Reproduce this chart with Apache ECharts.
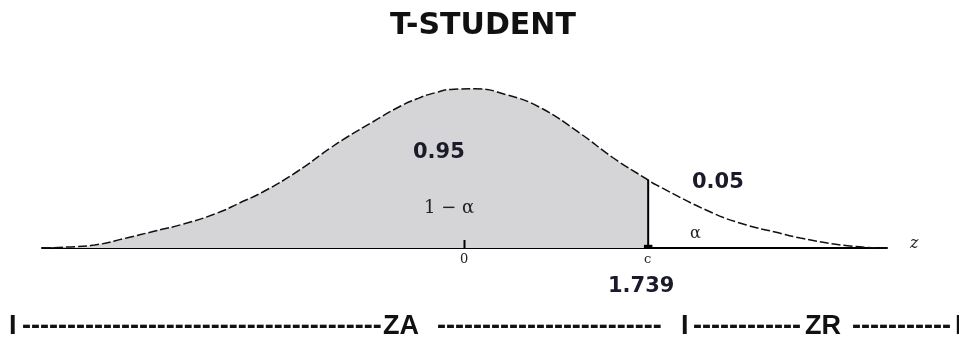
<!DOCTYPE html>
<html>
<head>
<meta charset="utf-8">
<script src="https://cdn.jsdelivr.net/npm/echarts@6/dist/echarts.min.js"></script>
<style>
html, body { margin: 0; padding: 0; background: #fff; }
#chart { width: 959px; height: 343px; }
</style>
</head>
<body>
<div id="chart"></div>
<script>
// curva dibujada
var curveX = [-4.0, -3.76, -3.5, -3.2, -2.93, -2.66, -2.34, -2.13, -1.91, -1.59, -1.27, -1.11, -0.87, -0.64,
	-0.45, -0.28, -0.1, 0.1, 0.4, 0.71, 1.09, 1.41, 1.739, 1.82, 2.35, 2.67, 2.94, 3.18, 3.65, 4.0];
var curveY = [0.0, 0.0025, 0.0075, 0.025, 0.0425, 0.06, 0.0875, 0.1125, 0.14, 0.19, 0.25, 0.2775, 0.315, 0.35,
	0.373, 0.388, 0.397, 0.398, 0.383, 0.352, 0.2875, 0.225, 0.17, 0.157, 0.0875, 0.0575, 0.04, 0.025, 0.005, 0.0];
var critical = 1.739;
var areaLabel = '0.95';
var tailLabel = '0.05';

function showTStudent() {
	var myChart = echarts.init(document.getElementById('chart'));
	myChart.setOption(createOption());
}

function createOption() {
	var full = [];
	var shaded = [];
	var cutY = 0;
	for (var i in curveX) {
		full.push([curveX[i], curveY[i]]);
		if (curveX[i] <= critical) {
			shaded.push([curveX[i], curveY[i]]);
		}
		if (curveX[i] == critical) {
			cutY = curveY[i];
		}
	}
	var bold = 'DejaVu Sans';
	var bottomFont = 'bold 27px "Liberation Sans"';
	var bottomY = 329;
	function btxt(x, s) {
		return { type: 'text', z: 100, left: x, top: bottomY - 16, style: { text: s, font: bottomFont, fill: '#111' } };
	}
	function txt(x, y, s, font, color) {
		return { type: 'text', z: 100, left: x, top: y, style: { text: s, font: font, fill: color } };
	}
	var option = {
		animation: false,
		grid: { left: 42, right: 72, top: 68, bottom: 95 },
		xAxis: {
			type: 'value', min: -4, max: 4,
			axisLine: { lineStyle: { color: '#000', width: 2 } },
			axisTick: { show: false }, axisLabel: { show: false }, splitLine: { show: false }
		},
		yAxis: {
			type: 'value', min: 0, max: 0.45, show: false
		},
		series: [{
			name: 'area', type: 'line', data: shaded, symbol: 'none', smooth: 0.5,
			lineStyle: { width: 0 },
			areaStyle: { color: '#d5d5d7', opacity: 1 }
		}, {
			name: 'curve', type: 'line', data: full, symbol: 'none', smooth: 0.5,
			lineStyle: { color: '#111', width: 1.5, type: [9, 3] }
		}, {
			name: 'cut', type: 'line', data: [[critical, 0], [critical, cutY]], symbol: 'none',
			lineStyle: { color: '#000', width: 2 }
		}, {
			name: 'tick0', type: 'line', data: [[0, 0], [0, 0.02]], symbol: 'none',
			lineStyle: { color: '#000', width: 2 }
		}, {
			name: 'mark', type: 'line', data: [[critical - 0.04, 0.003], [critical + 0.04, 0.003]], symbol: 'none',
			lineStyle: { color: '#000', width: 4 }
		}],
		graphic: [
			txt(390, 11, 'T-STUDENT', 'bold 30px "' + bold + '"', '#111'),
			txt(413, 142, areaLabel, 'bold 21px "' + bold + '"', '#1a1a2a'),
			txt(692, 172, tailLabel, 'bold 21px "' + bold + '"', '#1a1a2a'),
			txt(608, 276, String(critical), 'bold 21px "' + bold + '"', '#1a1a2a'),
			txt(424, 199, '1 − α', '18px "DejaVu Serif"', '#222'),
			txt(690, 226, 'α', '16px "DejaVu Serif"', '#222'),
			txt(460, 253, '0', '13px "DejaVu Serif"', '#222'),
			txt(644, 253, 'c', '13px "DejaVu Serif"', '#222'),
			txt(910, 236, 'z', 'italic 16px "DejaVu Serif"', '#222'),
			btxt(9, 'I'),
			btxt(22, '----------------------------------------'),
			btxt(383, 'ZA'),
			btxt(437, '-------------------------'),
			btxt(681, 'I'),
			btxt(693, '------------'),
			btxt(805, 'ZR'),
			btxt(852, '-----------'),
			btxt(955, 'I')
		]
	};
	return option;
}

showTStudent();
</script>
</body>
</html>
